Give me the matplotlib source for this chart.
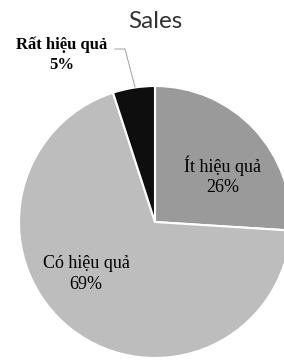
import matplotlib.pyplot as plt

labels = ['Ít hiệu quả', 'Có hiệu quả', 'Rất hiệu quả']
values = [26, 69, 5]
colors = ['#9a9a9a', '#bdbdbd', '#0e0e0e']

W, H = 284, 360
fig = plt.figure(figsize=(W / 100, H / 100), dpi=100)
ax = fig.add_axes([0, 0, 1, 1])

# pie placed in pixel space, partly cut by the right and bottom edges
cx, cy, r = 155, H - 222, 136
wedges, _ = ax.pie(values, colors=colors, startangle=90, counterclock=False,
                   center=(cx, cy), radius=r, frame=True,
                   wedgeprops=dict(edgecolor='white', linewidth=1.5))
ax.set_xlim(0, W)
ax.set_ylim(0, H)
ax.set_aspect('equal')
ax.axis('off')

ax.text(155, H - 21, 'Sales', ha='center', va='center', fontsize=17.5,
        family='Lato', color='#333333')

serif = 'Liberation Serif'
pct = [f'{v}%' for v in values]
ax.text(223, H - 176, f'{labels[0]}\n{pct[0]}', ha='center', va='center',
        fontsize=13, family=serif, linespacing=1.25)
ax.text(86, H - 274, f'{labels[1]}\n{pct[1]}', ha='center', va='center',
        fontsize=13, family=serif, linespacing=1.25)
ax.text(62, H - 55, f'{labels[2]}\n{pct[2]}', ha='center', va='center',
        fontsize=12, family=serif, fontweight='bold', linespacing=1.3)

# leader line for the small slice
ax.plot([115, 125, 135], [H - 49, H - 49, H - 87], color='#aaaaaa', lw=0.8)

fig.savefig('out.png', dpi=100)
